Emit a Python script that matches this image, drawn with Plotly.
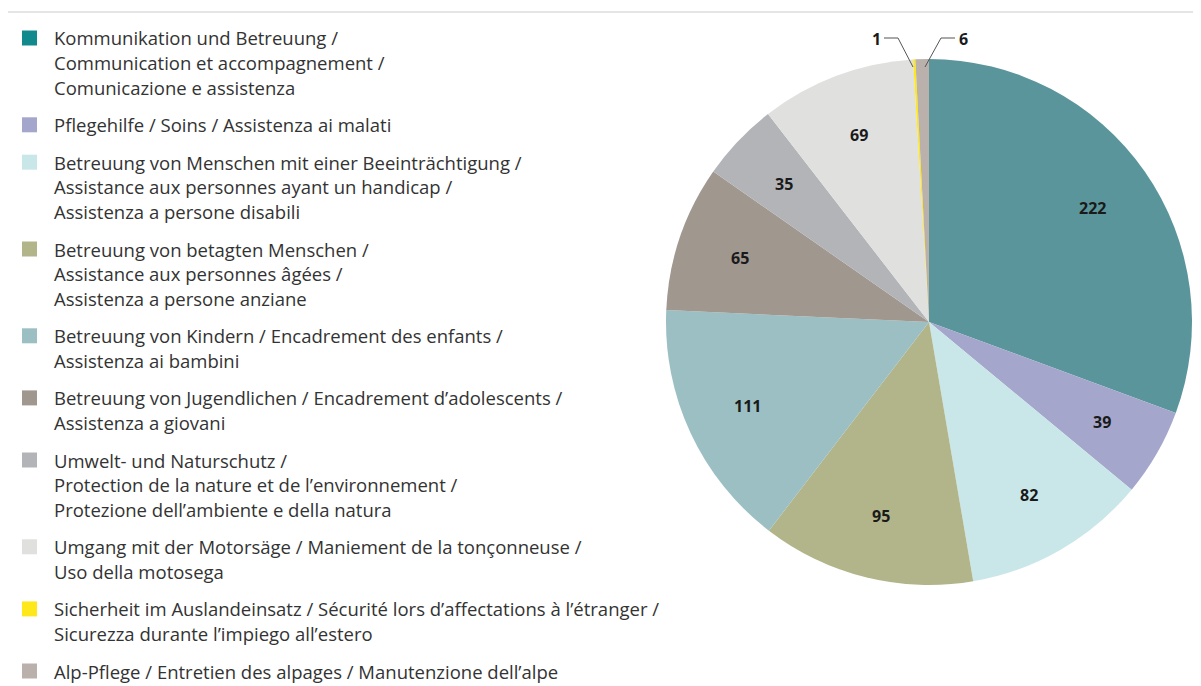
import math
import plotly.graph_objects as go

OX, OY = 8, 8  # page offset of the plot inside the browser body
W, H = 1201 - OX, 686 - OY

categories = [
    ["Kommunikation und Betreuung /", "Communication et accompagnement /", "Comunicazione e assistenza"],
    ["Pflegehilfe / Soins / Assistenza ai malati"],
    ["Betreuung von Menschen mit einer Beeinträchtigung /", "Assistance aux personnes ayant un handicap /", "Assistenza a persone disabili"],
    ["Betreuung von betagten Menschen /", "Assistance aux personnes âgées /", "Assistenza a persone anziane"],
    ["Betreuung von Kindern / Encadrement des enfants /", "Assistenza ai bambini"],
    ["Betreuung von Jugendlichen / Encadrement d’adolescents /", "Assistenza a giovani"],
    ["Umwelt- und Naturschutz /", "Protection de la nature et de l’environnement /", "Protezione dell’ambiente e della natura"],
    ["Umgang mit der Motorsäge / Maniement de la tonçonneuse /", "Uso della motosega"],
    ["Sicherheit im Auslandeinsatz / Sécurité lors d’affectations à l’étranger /", "Sicurezza durante l’impiego all’estero"],
    ["Alp-Pflege / Entretien des alpages / Manutenzione dell’alpe"],
]
values = [222, 39, 82, 95, 111, 65, 35, 69, 1, 6]
slice_colors = ["#5B959C", "#A4A7CB", "#C9E7E9", "#B2B58A", "#9CBFC3",
                "#A0978F", "#B2B4B8", "#E0E0DF", "#FFE81A", "#BAB0AC"]
legend_colors = ["#12898C", "#A4A7CB", "#C9E7E9", "#B2B58A", "#9CBFC3",
                 "#A0978F", "#B2B4B8", "#E0E0DF", "#FFE81A", "#BAB0AC"]
small_slices = [8, 9]  # labelled outside with leader lines

labels = [" ".join(c) for c in categories]

cx, cy, R = 929, 322, 263


def px(x):
    return (x - OX) / W


def py(y):
    return 1 - (y - OY) / H


fig = go.Figure()
fig.add_trace(go.Pie(
    labels=labels,
    values=values,
    sort=False,
    direction="clockwise",
    rotation=0,
    marker=dict(colors=slice_colors, line=dict(width=0)),
    textinfo="none",
    showlegend=False,
    hoverinfo="label+value",
    domain=dict(x=[px(cx - R), px(cx + R)], y=[py(cy + R), py(cy - R)]),
))

annotations = []
shapes = []

# top rule
shapes.append(dict(type="line", xref="paper", yref="paper",
                   x0=px(1), x1=px(1201), y0=py(12), y1=py(12),
                   line=dict(color="#cccccc", width=1.2)))

# legend
line_h = 24.7
gap = 12.7
y = 38
for cat, col in zip(categories, legend_colors):
    shapes.append(dict(type="rect", xref="paper", yref="paper",
                       x0=px(22), x1=px(37), y0=py(y - 7.5), y1=py(y + 7.5),
                       fillcolor=col, line=dict(width=0)))
    for j, line in enumerate(cat):
        annotations.append(dict(x=px(52), y=py(y + j * line_h), xref="paper", yref="paper",
                                text=line, showarrow=False, xanchor="left", yanchor="middle",
                                font=dict(family="Open Sans", size=18.5, color="#333333")))
    y += len(cat) * line_h + gap

# value labels inside the slices, placed along each slice's mid-angle
label_font = dict(family="Open Sans", size=16, color="#1a1a1a", weight="bold")
total = sum(values)
cum = 0
for i, v in enumerate(values):
    theta = 2 * math.pi * (cum + v / 2) / total
    cum += v
    if i in small_slices:
        continue
    r = 0.76 * R
    annotations.append(dict(x=px(cx + r * math.sin(theta)), y=py(cy - r * math.cos(theta)),
                            xref="paper", yref="paper", text=str(v), showarrow=False,
                            xanchor="center", yanchor="middle", font=label_font))

# small slice labels with leader lines
annotations.append(dict(x=px(876), y=py(39), xref="paper", yref="paper", text=str(values[8]),
                        showarrow=False, xanchor="center", yanchor="middle", font=label_font))
annotations.append(dict(x=px(963), y=py(39), xref="paper", yref="paper", text=str(values[9]),
                        showarrow=False, xanchor="center", yanchor="middle", font=label_font))
for pts in ([(884, 38), (898, 38), (913, 67)], [(955, 38), (941, 38), (925, 67)]):
    path = "M {} {} L {} {} L {} {}".format(*[c for p in pts for c in (px(p[0]), py(p[1]))])
    shapes.append(dict(type="path", xref="paper", yref="paper", path=path,
                       line=dict(color="#555555", width=1)))

fig.update_layout(
    width=W, height=H,
    margin=dict(l=0, r=0, t=0, b=0),
    paper_bgcolor="white",
    plot_bgcolor="white",
    annotations=annotations,
    shapes=shapes,
)

fig.write_html("out.html")
